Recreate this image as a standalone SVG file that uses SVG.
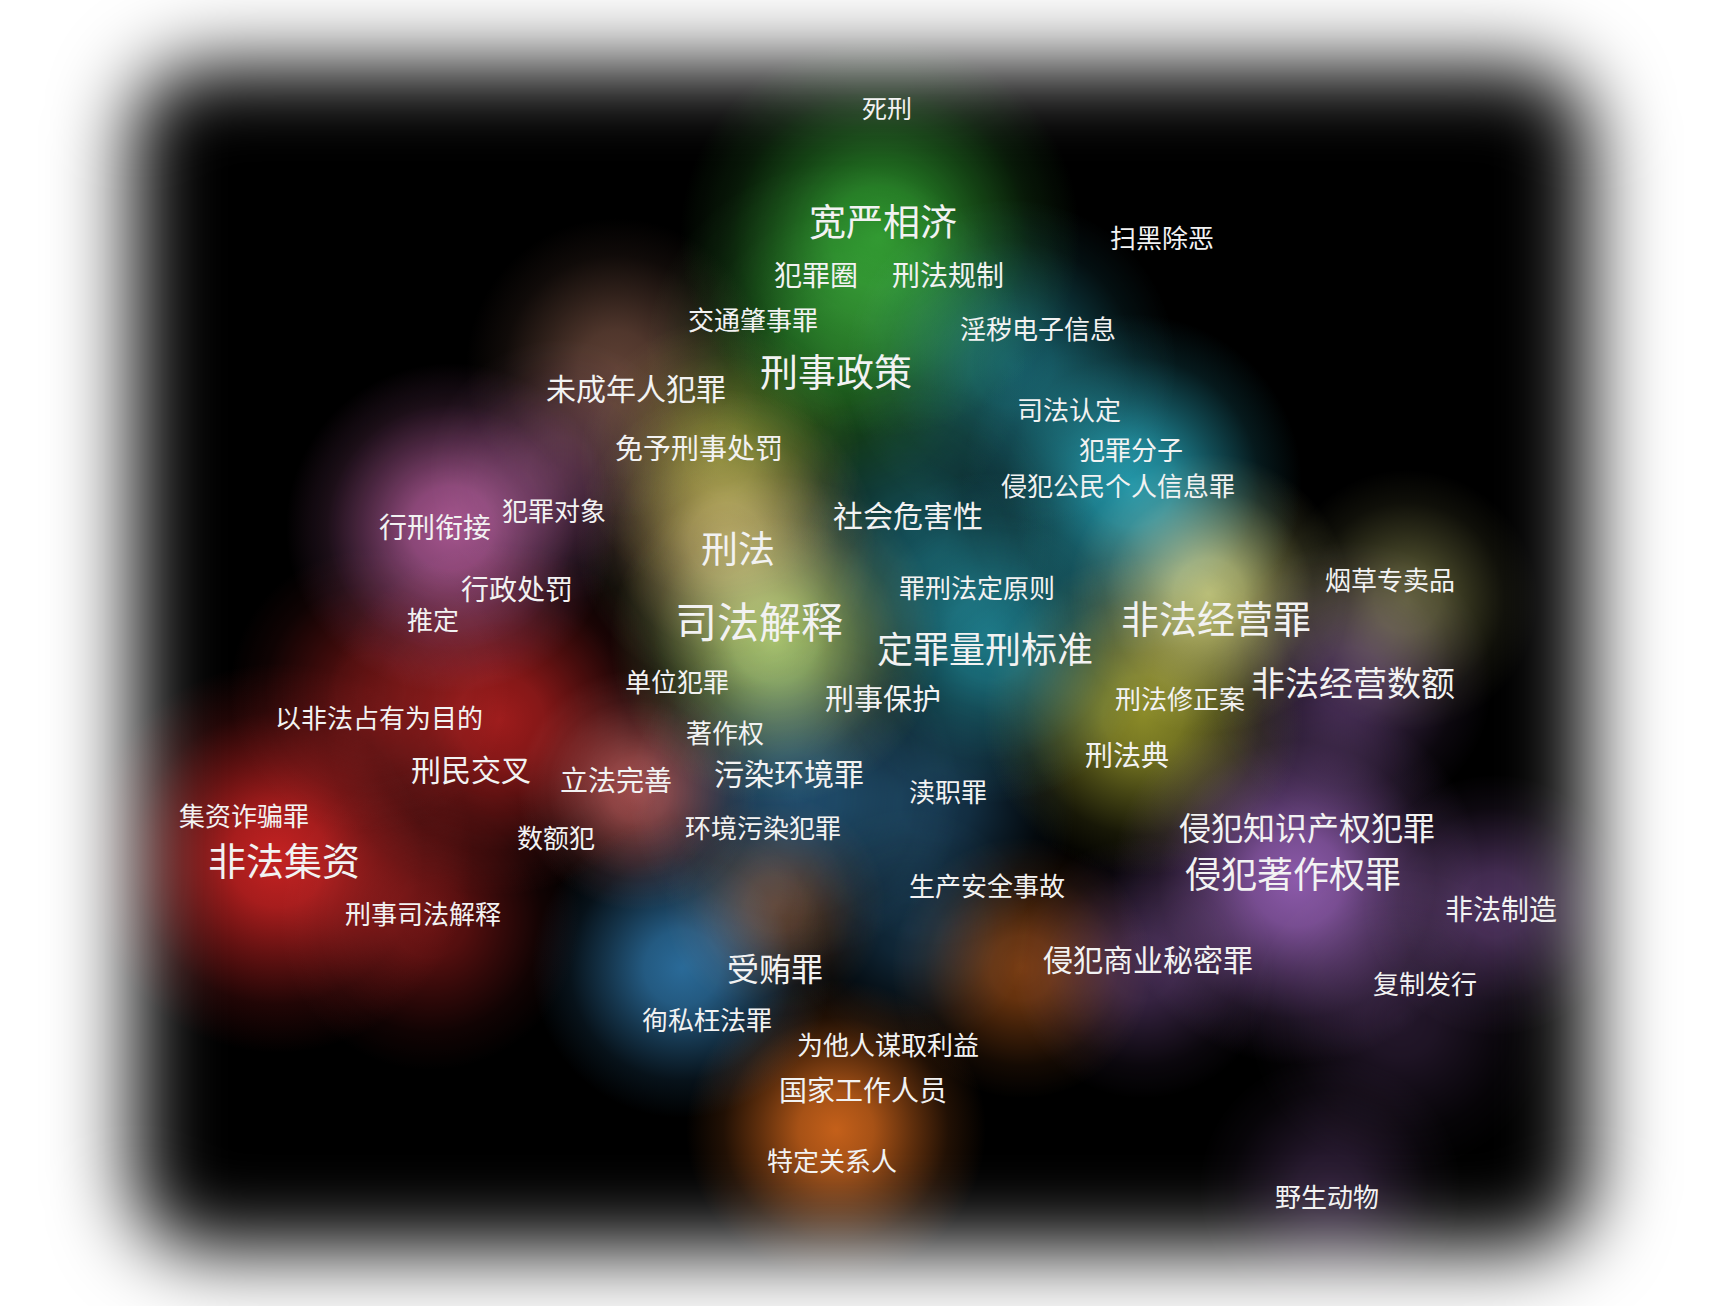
<svg xmlns="http://www.w3.org/2000/svg" width="1724" height="1306" viewBox="0 0 1724 1306">
<style>
.lbl{fill:#f2f2f2;font-family:"Noto Sans CJK SC","Noto Sans",sans-serif;text-anchor:middle}
.b{mix-blend-mode:screen}
</style>
<defs>
<filter id="edge" x="-20%" y="-20%" width="140%" height="140%"><feGaussianBlur stdDeviation="40"/></filter>
<mask id="frame" maskUnits="userSpaceOnUse" x="0" y="0" width="1724" height="1306">
<rect x="133" y="66" width="1456" height="1184" rx="70" fill="#fff" filter="url(#edge)"/>
</mask>
<radialGradient id="green"><stop offset="0" stop-color="#2f9e2f"/><stop offset="0.25" stop-color="#2f9e2f" stop-opacity="0.85"/><stop offset="0.5" stop-color="#2f9e2f" stop-opacity="0.5"/><stop offset="0.75" stop-color="#2f9e2f" stop-opacity="0.17"/><stop offset="1" stop-color="#2f9e2f" stop-opacity="0"/></radialGradient>
<radialGradient id="teal"><stop offset="0" stop-color="#2396a8"/><stop offset="0.25" stop-color="#2396a8" stop-opacity="0.85"/><stop offset="0.5" stop-color="#2396a8" stop-opacity="0.5"/><stop offset="0.75" stop-color="#2396a8" stop-opacity="0.17"/><stop offset="1" stop-color="#2396a8" stop-opacity="0"/></radialGradient>
<radialGradient id="lime"><stop offset="0" stop-color="#a4c468"/><stop offset="0.25" stop-color="#a4c468" stop-opacity="0.85"/><stop offset="0.5" stop-color="#a4c468" stop-opacity="0.5"/><stop offset="0.75" stop-color="#a4c468" stop-opacity="0.17"/><stop offset="1" stop-color="#a4c468" stop-opacity="0"/></radialGradient>
<radialGradient id="tan"><stop offset="0" stop-color="#b89a60"/><stop offset="0.25" stop-color="#b89a60" stop-opacity="0.85"/><stop offset="0.5" stop-color="#b89a60" stop-opacity="0.5"/><stop offset="0.75" stop-color="#b89a60" stop-opacity="0.17"/><stop offset="1" stop-color="#b89a60" stop-opacity="0"/></radialGradient>
<radialGradient id="olive"><stop offset="0" stop-color="#8a8a28"/><stop offset="0.25" stop-color="#8a8a28" stop-opacity="0.85"/><stop offset="0.5" stop-color="#8a8a28" stop-opacity="0.5"/><stop offset="0.75" stop-color="#8a8a28" stop-opacity="0.17"/><stop offset="1" stop-color="#8a8a28" stop-opacity="0"/></radialGradient>
<radialGradient id="brown"><stop offset="0" stop-color="#5e4034"/><stop offset="0.25" stop-color="#5e4034" stop-opacity="0.85"/><stop offset="0.5" stop-color="#5e4034" stop-opacity="0.5"/><stop offset="0.75" stop-color="#5e4034" stop-opacity="0.17"/><stop offset="1" stop-color="#5e4034" stop-opacity="0"/></radialGradient>
<radialGradient id="pink"><stop offset="0" stop-color="#ac5894"/><stop offset="0.25" stop-color="#ac5894" stop-opacity="0.85"/><stop offset="0.5" stop-color="#ac5894" stop-opacity="0.5"/><stop offset="0.75" stop-color="#ac5894" stop-opacity="0.17"/><stop offset="1" stop-color="#ac5894" stop-opacity="0"/></radialGradient>
<radialGradient id="red"><stop offset="0" stop-color="#c42222"/><stop offset="0.25" stop-color="#c42222" stop-opacity="0.85"/><stop offset="0.5" stop-color="#c42222" stop-opacity="0.5"/><stop offset="0.75" stop-color="#c42222" stop-opacity="0.17"/><stop offset="1" stop-color="#c42222" stop-opacity="0"/></radialGradient>
<radialGradient id="rose"><stop offset="0" stop-color="#b45858"/><stop offset="0.25" stop-color="#b45858" stop-opacity="0.85"/><stop offset="0.5" stop-color="#b45858" stop-opacity="0.5"/><stop offset="0.75" stop-color="#b45858" stop-opacity="0.17"/><stop offset="1" stop-color="#b45858" stop-opacity="0"/></radialGradient>
<radialGradient id="blue"><stop offset="0" stop-color="#2a6a98"/><stop offset="0.25" stop-color="#2a6a98" stop-opacity="0.85"/><stop offset="0.5" stop-color="#2a6a98" stop-opacity="0.5"/><stop offset="0.75" stop-color="#2a6a98" stop-opacity="0.17"/><stop offset="1" stop-color="#2a6a98" stop-opacity="0"/></radialGradient>
<radialGradient id="orange"><stop offset="0" stop-color="#c4601a"/><stop offset="0.25" stop-color="#c4601a" stop-opacity="0.85"/><stop offset="0.5" stop-color="#c4601a" stop-opacity="0.5"/><stop offset="0.75" stop-color="#c4601a" stop-opacity="0.17"/><stop offset="1" stop-color="#c4601a" stop-opacity="0"/></radialGradient>
<radialGradient id="yellow"><stop offset="0" stop-color="#b4b468"/><stop offset="0.25" stop-color="#b4b468" stop-opacity="0.85"/><stop offset="0.5" stop-color="#b4b468" stop-opacity="0.5"/><stop offset="0.75" stop-color="#b4b468" stop-opacity="0.17"/><stop offset="1" stop-color="#b4b468" stop-opacity="0"/></radialGradient>
<radialGradient id="purple"><stop offset="0" stop-color="#8c5aaa"/><stop offset="0.25" stop-color="#8c5aaa" stop-opacity="0.85"/><stop offset="0.5" stop-color="#8c5aaa" stop-opacity="0.5"/><stop offset="0.75" stop-color="#8c5aaa" stop-opacity="0.17"/><stop offset="1" stop-color="#8c5aaa" stop-opacity="0"/></radialGradient>
</defs>
<rect width="1724" height="1306" fill="#fff"/>
<g id="density" mask="url(#frame)" style="isolation:isolate">
<rect x="0" y="0" width="1724" height="1306" fill="#000"/>
<g id="blobs">
<circle class="b" cx="880" cy="236" r="200" fill="url(#green)" opacity="0.9"/>
<circle class="b" cx="836" cy="355" r="190" fill="url(#green)" opacity="0.55"/>
<circle class="b" cx="1132" cy="484" r="170" fill="url(#teal)"/>
<circle class="b" cx="1011" cy="365" r="165" fill="url(#teal)" opacity="0.6"/>
<circle class="b" cx="990" cy="638" r="165" fill="url(#teal)" opacity="0.8"/>
<circle class="b" cx="913" cy="528" r="140" fill="url(#teal)" opacity="0.45"/>
<circle class="b" cx="775" cy="640" r="165" fill="url(#lime)" opacity="0.95"/>
<circle class="b" cx="726" cy="540" r="150" fill="url(#tan)" opacity="0.8"/>
<circle class="b" cx="720" cy="460" r="140" fill="url(#olive)" opacity="0.75"/>
<circle class="b" cx="616" cy="368" r="150" fill="url(#brown)"/>
<circle class="b" cx="451" cy="528" r="165" fill="url(#pink)" opacity="0.95"/>
<circle class="b" cx="560" cy="470" r="130" fill="url(#pink)" opacity="0.35"/>
<circle class="b" cx="278" cy="858" r="195" fill="url(#red)"/>
<circle class="b" cx="500" cy="720" r="175" fill="url(#red)" opacity="0.8"/>
<circle class="b" cx="430" cy="920" r="150" fill="url(#red)" opacity="0.5"/>
<circle class="b" cx="370" cy="690" r="140" fill="url(#red)" opacity="0.45"/>
<circle class="b" cx="638" cy="790" r="120" fill="url(#rose)" opacity="0.85"/>
<circle class="b" cx="682" cy="968" r="150" fill="url(#blue)"/>
<circle class="b" cx="795" cy="795" r="165" fill="url(#blue)" opacity="0.7"/>
<circle class="b" cx="935" cy="805" r="140" fill="url(#blue)" opacity="0.5"/>
<circle class="b" cx="910" cy="930" r="120" fill="url(#blue)" opacity="0.4"/>
<circle class="b" cx="836" cy="1130" r="150" fill="url(#orange)"/>
<circle class="b" cx="1022" cy="968" r="130" fill="url(#orange)" opacity="0.6"/>
<circle class="b" cx="775" cy="905" r="110" fill="url(#orange)" opacity="0.45"/>
<circle class="b" cx="1209" cy="594" r="140" fill="url(#yellow)"/>
<circle class="b" cx="1143" cy="715" r="160" fill="url(#olive)"/>
<circle class="b" cx="1407" cy="600" r="130" fill="url(#yellow)" opacity="0.5"/>
<circle class="b" cx="1297" cy="880" r="185" fill="url(#purple)"/>
<circle class="b" cx="1352" cy="682" r="140" fill="url(#purple)" opacity="0.5"/>
<circle class="b" cx="1495" cy="905" r="130" fill="url(#purple)" opacity="0.55"/>
<circle class="b" cx="1143" cy="968" r="130" fill="url(#purple)" opacity="0.45"/>
<circle class="b" cx="1330" cy="1188" r="130" fill="url(#purple)" opacity="0.3"/>
<circle class="b" cx="1400" cy="1020" r="150" fill="url(#purple)" opacity="0.25"/>
</g>
</g>
<g id="labels">
<g id="n1"><text class="lbl" x="887" y="118" font-size="25">死刑</text></g>
<g id="n2"><text class="lbl" x="883" y="236" font-size="37">宽严相济</text></g>
<g id="n3"><text class="lbl" x="1162" y="248" font-size="26">扫黑除恶</text></g>
<g id="n4"><text class="lbl" x="816" y="286" font-size="28">犯罪圈</text></g>
<g id="n5"><text class="lbl" x="948" y="286" font-size="28">刑法规制</text></g>
<g id="n6"><text class="lbl" x="753" y="330" font-size="26">交通肇事罪</text></g>
<g id="n7"><text class="lbl" x="1038" y="339" font-size="26">淫秽电子信息</text></g>
<g id="n8"><text class="lbl" x="836" y="386" font-size="38">刑事政策</text></g>
<g id="n9"><text class="lbl" x="636" y="400" font-size="30">未成年人犯罪</text></g>
<g id="n10"><text class="lbl" x="1069" y="420" font-size="26">司法认定</text></g>
<g id="n11"><text class="lbl" x="699" y="459" font-size="28">免予刑事处罚</text></g>
<g id="n12"><text class="lbl" x="1131" y="460" font-size="26">犯罪分子</text></g>
<g id="n13"><text class="lbl" x="1118" y="496" font-size="26">侵犯公民个人信息罪</text></g>
<g id="n14"><text class="lbl" x="554" y="521" font-size="26">犯罪对象</text></g>
<g id="n15"><text class="lbl" x="435" y="538" font-size="28">行刑衔接</text></g>
<g id="n16"><text class="lbl" x="908" y="527" font-size="30">社会危害性</text></g>
<g id="n17"><text class="lbl" x="738" y="563" font-size="37">刑法</text></g>
<g id="n18"><text class="lbl" x="517" y="600" font-size="28">行政处罚</text></g>
<g id="n19"><text class="lbl" x="977" y="598" font-size="26">罪刑法定原则</text></g>
<g id="n20"><text class="lbl" x="1390" y="590" font-size="26">烟草专卖品</text></g>
<g id="n21"><text class="lbl" x="433" y="630" font-size="26">推定</text></g>
<g id="n22"><text class="lbl" x="759" y="638" font-size="42">司法解释</text></g>
<g id="n23"><text class="lbl" x="1216" y="633" font-size="38">非法经营罪</text></g>
<g id="n24"><text class="lbl" x="985" y="663" font-size="36">定罪量刑标准</text></g>
<g id="n25"><text class="lbl" x="677" y="692" font-size="26">单位犯罪</text></g>
<g id="n26"><text class="lbl" x="1353" y="696" font-size="34">非法经营数额</text></g>
<g id="n27"><text class="lbl" x="883" y="710" font-size="29">刑事保护</text></g>
<g id="n28"><text class="lbl" x="1180" y="709" font-size="26">刑法修正案</text></g>
<g id="n29"><text class="lbl" x="379" y="728" font-size="26">以非法占有为目的</text></g>
<g id="n30"><text class="lbl" x="725" y="743" font-size="26">著作权</text></g>
<g id="n31"><text class="lbl" x="471" y="781" font-size="30">刑民交叉</text></g>
<g id="n32"><text class="lbl" x="789" y="785" font-size="30">污染环境罪</text></g>
<g id="n33"><text class="lbl" x="1127" y="766" font-size="28">刑法典</text></g>
<g id="n34"><text class="lbl" x="616" y="791" font-size="28">立法完善</text></g>
<g id="n35"><text class="lbl" x="948" y="802" font-size="26">渎职罪</text></g>
<g id="n36"><text class="lbl" x="244" y="826" font-size="26">集资诈骗罪</text></g>
<g id="n37"><text class="lbl" x="1307" y="840" font-size="32">侵犯知识产权犯罪</text></g>
<g id="n38"><text class="lbl" x="763" y="838" font-size="26">环境污染犯罪</text></g>
<g id="n39"><text class="lbl" x="556" y="848" font-size="26">数额犯</text></g>
<g id="n40"><text class="lbl" x="284" y="875" font-size="38">非法集资</text></g>
<g id="n41"><text class="lbl" x="1293" y="888" font-size="36">侵犯著作权罪</text></g>
<g id="n42"><text class="lbl" x="987" y="896" font-size="26">生产安全事故</text></g>
<g id="n43"><text class="lbl" x="1501" y="920" font-size="28">非法制造</text></g>
<g id="n44"><text class="lbl" x="423" y="924" font-size="26">刑事司法解释</text></g>
<g id="n45"><text class="lbl" x="1148" y="971" font-size="30">侵犯商业秘密罪</text></g>
<g id="n46"><text class="lbl" x="775" y="981" font-size="32">受贿罪</text></g>
<g id="n47"><text class="lbl" x="1425" y="994" font-size="26">复制发行</text></g>
<g id="n48"><text class="lbl" x="707" y="1030" font-size="26">徇私枉法罪</text></g>
<g id="n49"><text class="lbl" x="888" y="1055" font-size="26">为他人谋取利益</text></g>
<g id="n50"><text class="lbl" x="863" y="1101" font-size="28">国家工作人员</text></g>
<g id="n51"><text class="lbl" x="832" y="1171" font-size="26">特定关系人</text></g>
<g id="n52"><text class="lbl" x="1327" y="1207" font-size="26">野生动物</text></g>
</g>
</svg>
